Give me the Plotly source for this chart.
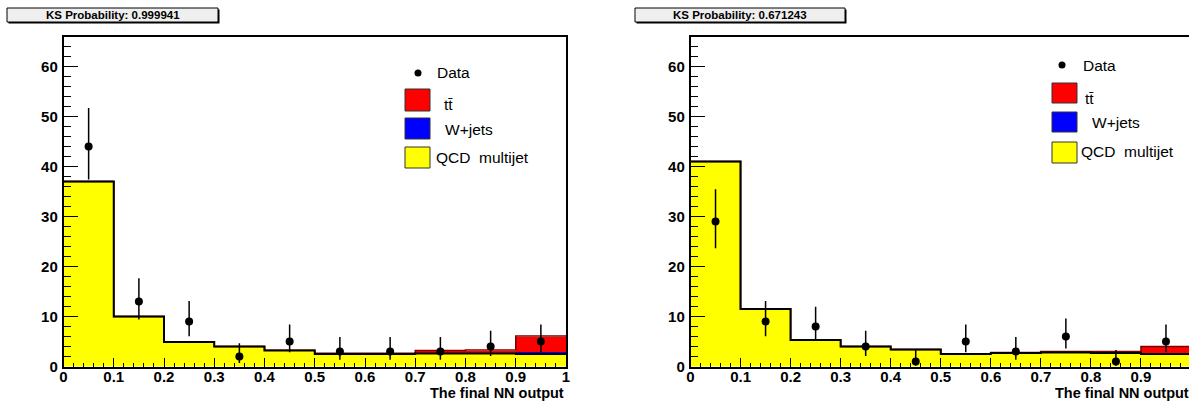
import numpy as np
import plotly.graph_objects as go

# ---------------- data ----------------
bin_centers = [0.05, 0.15, 0.25, 0.35, 0.45, 0.55, 0.65, 0.75, 0.85, 0.95]
bin_width = 0.1

# left panel
left_data = [44, 13, 9, 2, 5, 3, 3, 3, 4, 5]
left_err_up = [7.7, 4.67, 4.11, 2.64, 3.38, 2.92, 2.92, 2.92, 3.16, 3.38]
left_err_dn = [6.6, 3.58, 2.94, 1.29, 2.16, 1.63, 1.63, 1.63, 1.91, 2.16]
left_qcd = [37.0, 10.0, 4.9, 4.0, 3.2, 2.5, 2.5, 2.6, 2.6, 2.5]
left_wjets = [0, 0, 0, 0, 0, 0.1, 0.1, 0.1, 0.2, 0.5]
left_ttbar = [0, 0, 0, 0, 0.05, 0.05, 0.05, 0.5, 0.5, 3.1]
left_ks = "KS Probability: 0.999941"

# right panel
right_data = [29, 9, 8, 4, 1, 5, 3, 6, 1, 5]
right_err_up = [6.44, 4.11, 3.95, 3.16, 2.30, 3.38, 2.92, 3.58, 2.30, 3.38]
right_err_dn = [5.37, 2.94, 2.77, 1.91, 0.83, 2.16, 1.63, 2.38, 0.83, 2.16]
right_qcd = [41.0, 11.5, 5.3, 4.0, 3.4, 2.5, 2.7, 2.8, 2.7, 2.5]
right_wjets = [0, 0, 0, 0, 0, 0, 0.05, 0.1, 0.1, 0.3]
right_ttbar = [0, 0, 0, 0, 0, 0, 0.05, 0.1, 0.2, 1.2]
right_ks = "KS Probability: 0.671243"

x_tick_vals = [0, 0.1, 0.2, 0.3, 0.4, 0.5, 0.6, 0.7, 0.8, 0.9, 1.0]
x_tick_labels = ["0", "0.1", "0.2", "0.3", "0.4", "0.5", "0.6", "0.7", "0.8", "0.9", "1"]
y_tick_vals = [0, 10, 20, 30, 40, 50, 60]
y_tick_labels = ["0", "10", "20", "30", "40", "50", "60"]

legend_labels = ["Data", "tt\u0304", "W+jets", "QCD \u00a0multijet"]
x_title = "The final NN output"

# ---------------- styling ----------------
W, H = 1189, 404
YELLOW, BLUE, RED = "#ffff00", "#0000ff", "#ff0000"
FONT = "Liberation Sans, Arial, Helvetica, sans-serif"


def px(x):
    return x / W


def py(y):
    return 1 - y / H


fig = go.Figure()


def add_panel(xa, ya, data, eup, edn, qcd, wj, tt):
    centers = np.array(bin_centers)
    edges = np.append(centers - bin_width / 2, centers[-1] + bin_width / 2)
    for vals, col in ((qcd, YELLOW), (wj, BLUE), (tt, RED)):
        fig.add_trace(go.Bar(x=centers, y=vals, width=bin_width, marker=dict(color=col, line=dict(width=0)),
                             xaxis=xa, yaxis=ya, showlegend=False, hoverinfo="skip"))
    total = np.array(qcd) + np.array(wj) + np.array(tt)
    fig.add_trace(go.Scatter(x=edges, y=np.append(total, total[-1]), mode="lines",
                             line=dict(shape="hv", color="#7a0000", width=1.5),
                             xaxis=xa, yaxis=ya, showlegend=False, hoverinfo="skip"))
    q = np.array(qcd)
    fig.add_trace(go.Scatter(x=edges, y=np.append(q, q[-1]), mode="lines",
                             line=dict(shape="hv", color="black", width=2),
                             xaxis=xa, yaxis=ya, showlegend=False, hoverinfo="skip"))
    fig.add_trace(go.Scatter(x=centers, y=data, mode="markers",
                             marker=dict(color="black", size=8),
                             error_y=dict(type="data", array=eup, arrayminus=edn, symmetric=False,
                                          color="black", thickness=1.5, width=0),
                             xaxis=xa, yaxis=ya, showlegend=False))


add_panel("x", "y", left_data, left_err_up, left_err_dn, left_qcd, left_wjets, left_ttbar)
add_panel("x2", "y2", right_data, right_err_up, right_err_dn, right_qcd, right_wjets, right_ttbar)

tickfont = dict(family=FONT, size=15, color="black")


def bold(labels):
    return ["<b>%s</b>" % t for t in labels]


def xaxis_cfg(domain, rng):
    return dict(domain=domain, range=rng, tickmode="array", tickvals=x_tick_vals, ticktext=bold(x_tick_labels),
                ticks="inside", ticklen=9, tickwidth=1,
                tickcolor="black", minor=dict(dtick=0.02, tick0=0, ticks="inside", ticklen=4, tickcolor="black", tickwidth=1),
                showline=True, linecolor="black", linewidth=1.5, mirror=True, showgrid=False, zeroline=False,
                tickfont=tickfont, ticklabelstandoff=-4, fixedrange=True, automargin=False)


def yaxis_cfg(anchor, mirror):
    return dict(domain=[py(366.5), py(36.5)], range=[0, 66], tickmode="array", tickvals=y_tick_vals,
                ticktext=bold(y_tick_labels), ticks="inside", ticklen=15,
                tickwidth=1, tickcolor="black",
                minor=dict(dtick=2, tick0=0, ticks="inside", ticklen=8, tickcolor="black", tickwidth=1),
                showline=True, linecolor="black", linewidth=1.5, mirror=mirror, showgrid=False, zeroline=False,
                tickfont=tickfont, anchor=anchor, ticklabelstandoff=1, fixedrange=True, automargin=False)


right_x0 = 690.5
right_max = (W - right_x0) / 500.5

fig.update_layout(
    width=W, height=H, margin=dict(l=0, r=0, t=0, b=0, autoexpand=False),
    paper_bgcolor="white", plot_bgcolor="white", barmode="stack", bargap=0,
    xaxis=xaxis_cfg([px(63.5), px(566)], [0, 1]),
    yaxis=yaxis_cfg("x", True),
    xaxis2=dict(xaxis_cfg([px(right_x0), 1.0], [0, right_max]), anchor="y2"),
    yaxis2=yaxis_cfg("x2", False),
    showlegend=False,
)

shapes = []
annotations = []

# KS boxes
for (x0, x1, txt) in ((7, 218, left_ks), (635, 845, right_ks)):
    shapes.append(dict(type="rect", xref="paper", yref="paper", x0=px(x0 + 1.5), x1=px(x1 + 1.5),
                       y0=py(23.5), y1=py(9.5), fillcolor="black", line=dict(width=0), layer="above"))
    shapes.append(dict(type="rect", xref="paper", yref="paper", x0=px(x0), x1=px(x1),
                       y0=py(22), y1=py(8), fillcolor="#efefef", line=dict(color="black", width=1), layer="above"))
    annotations.append(dict(text="<b>%s</b>" % txt, xref="paper", yref="paper", x=px((x0 + x1) / 2), y=py(15),
                            xanchor="center", yanchor="middle", showarrow=False,
                            font=dict(family=FONT, size=11.5, color="black")))

# x titles
for xr in (566, 1191):
    annotations.append(dict(text="<b>%s</b>" % x_title, xref="paper", yref="paper", x=px(xr), y=py(393),
                            xanchor="right", yanchor="middle", showarrow=False,
                            font=dict(family=FONT, size=14.5, color="black")))

# legends
legend_specs = [
    dict(mx=418, my=73, bx0=405, bx1=430, rows=[(89, 111), (118, 139), (147, 168)],
         tx=[435, 442, 443, 434], ty=[73, 104, 129, 157]),
    dict(mx=1062, my=65, bx0=1052, bx1=1077, rows=[(83, 103), (112, 132), (142, 163)],
         tx=[1081, 1083, 1090, 1079], ty=[65, 98, 122, 151]),
]
for spec in legend_specs:
    r = 3.5
    shapes.append(dict(type="circle", xref="paper", yref="paper", x0=px(spec["mx"] - r), x1=px(spec["mx"] + r),
                       y0=py(spec["my"] + r), y1=py(spec["my"] - r), fillcolor="black", line=dict(width=0)))
    for (y0, y1), col in zip(spec["rows"], (RED, BLUE, YELLOW)):
        shapes.append(dict(type="rect", xref="paper", yref="paper", x0=px(spec["bx0"]), x1=px(spec["bx1"]),
                           y0=py(y1), y1=py(y0), fillcolor=col, line=dict(color="#333333", width=1)))
    for lab, tx, ty in zip(legend_labels, spec["tx"], spec["ty"]):
        annotations.append(dict(text=lab, xref="paper", yref="paper", x=px(tx), y=py(ty),
                                xanchor="left", yanchor="middle", showarrow=False,
                                font=dict(family=FONT, size=15.5, color="black")))

fig.update_layout(shapes=shapes, annotations=annotations)
fig.write_html("out.html")
